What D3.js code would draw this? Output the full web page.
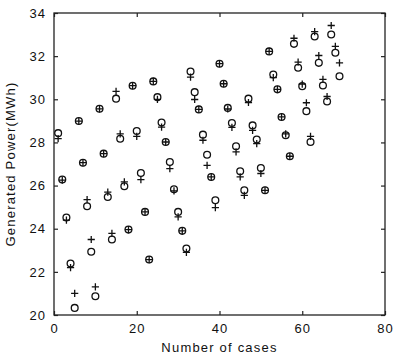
<!DOCTYPE html>
<html>
<head>
<meta charset="utf-8">
<script src="https://cdn.jsdelivr.net/npm/d3@7"></script>
<style>
  body { margin: 0; background: #fff; }
  text { font-family: "Liberation Sans", Arial, sans-serif; fill: #111; }
</style>
</head>
<body>
<div id="chart"></div>
<script>
// case numbers
const cases = d3.range(1, 70)
// circles
const actual = [
  28.43, 26.28, 24.52, 22.39, 20.33, 28.99, 27.06, 25.04, 22.93, 20.87,
  29.56, 27.48, 25.47, 23.50, 30.03, 28.17, 25.97, 23.96, 30.63, 28.53,
  26.58, 24.78, 22.57, 30.83, 30.10, 28.92, 28.02, 27.09, 25.83, 24.78,
  23.90, 23.08, 31.29, 30.33, 29.53, 28.36, 27.43, 26.40, 25.32, 31.65,
  30.72, 29.60, 28.90, 27.82, 26.66, 25.78, 30.03, 28.79, 28.13, 26.81,
  25.78, 32.22, 31.15, 30.46, 29.18, 28.33, 27.36, 32.57, 31.46, 30.61,
  29.45, 28.02, 32.91, 31.69, 30.64, 29.90, 33.00, 32.16, 31.07
]
// plus markers
const predicted = [
  28.18, 26.25, 24.40, 22.20, 21.00, 28.99, 27.06, 25.35, 23.50, 21.30,
  29.56, 27.48, 25.70, 23.78, 30.37, 28.40, 26.17, 23.96, 30.63, 28.28,
  26.28, 24.78, 22.57, 30.83, 30.00, 28.71, 28.02, 26.79, 25.75, 24.55,
  23.90, 22.90, 31.03, 29.99, 29.53, 28.10, 26.94, 26.40, 24.98, 31.65,
  30.72, 29.55, 28.70, 27.56, 26.40, 25.55, 29.85, 28.56, 27.94, 26.56,
  25.78, 32.22, 31.00, 30.46, 29.18, 28.40, 27.36, 32.83, 31.72, 30.70,
  29.84, 28.28, 33.14, 32.03, 30.92, 30.13, 33.42, 32.45, 31.69
]
const xTicks = [0, 20, 40, 60, 80]
const yTicks = [20, 22, 24, 26, 28, 30, 32, 34]

const W = 393, H = 356
const margin = { top: 13, right: 8, bottom: 41, left: 54 }
const width = W - margin.left - margin.right
const height = H - margin.top - margin.bottom

const svg = d3.select('#chart')
  .append('svg')
  .attr('width', W)
  .attr('height', H)
const g = svg.append('g')
  .attr('transform', 'translate(' + margin.left + ',' + margin.top + ')')

const x = d3.scaleLinear().domain([0, 80]).range([0, width])
const y = d3.scaleLinear().domain([20, 34]).range([height, 0])

// axes, ticks point inward
const axisStyle = (sel) => {
  sel.select('.domain').remove()
  sel.selectAll('line').attr('stroke', '#222').attr('stroke-width', 1.2)
  sel.selectAll('text')
    .style('font-size', '13px')
    .style('letter-spacing', '1px')
}
g.append('g')
  .attr('transform', 'translate(0,' + height + ')')
  .call(d3.axisBottom(x).tickValues(xTicks).tickSize(-4).tickPadding(9))
  .call(axisStyle)
g.append('g')
  .call(d3.axisLeft(y).tickValues(yTicks).tickSize(-4).tickPadding(8))
  .call(axisStyle)
g.append('g')
  .call(d3.axisTop(x).tickValues(xTicks).tickSize(-4).tickFormat(''))
  .call(axisStyle)
g.append('g')
  .attr('transform', 'translate(' + width + ',0)')
  .call(d3.axisRight(y).tickValues(yTicks).tickSize(-4).tickFormat(''))
  .call(axisStyle)

g.append('rect')
  .attr('width', width)
  .attr('height', height)
  .attr('fill', 'none')
  .attr('stroke', '#222')
  .attr('stroke-width', 1.3)

// axis titles
g.append('text')
  .attr('x', width / 2)
  .attr('y', height + 37)
  .attr('text-anchor', 'middle')
  .style('font-size', '13px')
  .style('letter-spacing', '1.2px')
  .text('Number of cases')
g.append('text')
  .attr('transform', 'translate(' + (-39) + ',' + (height / 2) + ') rotate(-90)')
  .attr('text-anchor', 'middle')
  .style('font-size', '13px')
  .style('letter-spacing', '1.2px')
  .text('Generated Power(MWh)')

// plus markers
const s = 3.6
g.selectAll('.plus')
  .data(cases)
  .enter()
  .append('path')
  .attr('class', 'plus')
  .attr('d', (d, i) => {
    const cx = x(d), cy = y(predicted[i])
    return 'M' + (cx - s) + ',' + cy + 'H' + (cx + s) + 'M' + cx + ',' + (cy - s) + 'V' + (cy + s)
  })
  .attr('stroke', '#111')
  .attr('stroke-width', 1.3)
  .attr('fill', 'none')

// circles
g.selectAll('.pt')
  .data(cases)
  .enter()
  .append('circle')
  .attr('class', 'pt')
  .attr('cx', d => x(d))
  .attr('cy', (d, i) => y(actual[i]))
  .attr('r', 3.4)
  .attr('fill', 'none')
  .attr('stroke', '#111')
  .attr('stroke-width', 1.3)
</script>
</body>
</html>
